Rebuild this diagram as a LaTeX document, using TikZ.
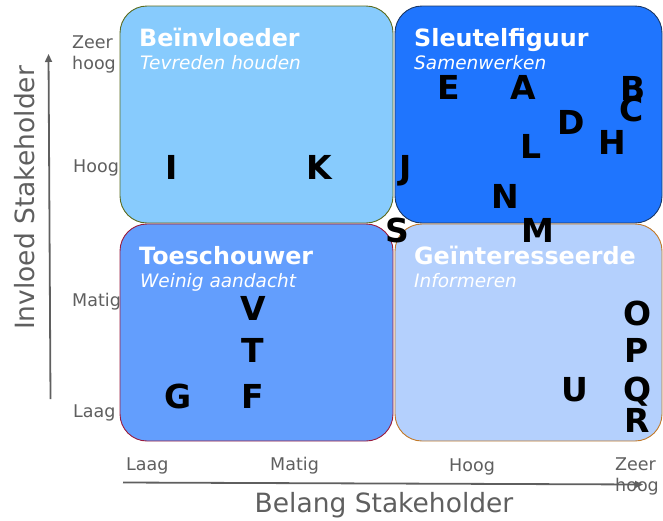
\documentclass[tikz,border=0pt]{standalone}
\usepackage{fontspec}
\setmainfont{DejaVu Sans}
\usetikzlibrary{arrows.meta}

\definecolor{invlfill}{RGB}{135,203,253}
\definecolor{invlrand}{RGB}{91,107,30}
\definecolor{sleutelfill}{RGB}{31,117,254}
\definecolor{sleutelrand}{RGB}{27,56,102}
\definecolor{toeschfill}{RGB}{99,158,253}
\definecolor{toeschrand}{RGB}{154,27,61}
\definecolor{geintfill}{RGB}{180,208,253}
\definecolor{geintrand}{RGB}{194,122,42}
\definecolor{asgrijs}{RGB}{95,95,95}

\begin{document}
\begin{tikzpicture}[x=1pt,y=-1pt,
	kwadrant/.style={rounded corners=27pt, line width=0.9pt},
	titel/.style={anchor=base west, inner sep=0pt, text=white, font=\bfseries\fontsize{23.8}{28}\selectfont},
	ondertitel/.style={anchor=base west, inner sep=0pt, text=white, font=\itshape\fontsize{18.5}{22}\selectfont},
	stk/.style={anchor=base, inner sep=0pt, font=\bfseries\fontsize{33}{38}\selectfont},
	schaal/.style={inner sep=0pt, align=left, text=asgrijs, font=\fontsize{17.5}{21}\selectfont},
	astitel/.style={anchor=base, inner sep=0pt, text=asgrijs, font=\fontsize{26.5}{31}\selectfont},
	as/.style={draw=asgrijs, line width=1.8pt, -{Triangle[length=8pt,width=7pt]}}]
	\useasboundingbox (0,0) rectangle (663,520);

	% kwadranten
	\filldraw[kwadrant, fill=invlfill, draw=invlrand] (120,6) rectangle (393,223);
	\filldraw[kwadrant, fill=sleutelfill, draw=sleutelrand] (395,6) rectangle (662,223);
	\filldraw[kwadrant, fill=toeschfill, draw=toeschrand] (120,224) rectangle (393,441);
	\filldraw[kwadrant, fill=geintfill, draw=geintrand] (395,224) rectangle (662,441);

	\node[titel] (invl) at (139,46) {Beïnvloeder};
	\node[ondertitel] (invlsub) at (140,69) {Tevreden houden};
	\node[titel] (sleutel) at (414,46) {Sleutelfiguur};
	\node[ondertitel] (sleutelsub) at (414,69) {Samenwerken};
	\node[titel] (toesch) at (139,264) {Toeschouwer};
	\node[ondertitel] (toeschsub) at (140,287) {Weinig aandacht};
	\node[titel] (geint) at (414,264) {Geïnteresseerde};
	\node[ondertitel] (geintsub) at (414,287) {Informeren};

	% stakeholders
	\foreach \naam/\px/\py in {I/172/179, K/319/179, J/406/179, E/449/99, A/523/99,
		B/633/100, C/632/121, D/571/134, H/612/154, L/531/158, N/505/208, M/538/242,
		S/397/242, V/253/320, T/253/362, G/178/408, F/253/408, O/638/325, P/637/362,
		Q/638/401, R/637/432, U/575/401}
		\node[stk] (stk\naam) at (\px,\py) {\naam};

	% assen
	\coordinate (yonder) at (50.5,399);
	\coordinate (yboven) at (48.5,54);
	\coordinate (xlinks) at (123,482.5);
	\coordinate (xrechts) at (643,484.5);
	\draw[as] (yonder) -- (yboven);
	\draw[as] (xlinks) -- (xrechts);

	\node[schaal, anchor=north west] (yzeer) at (72,36) {Zeer\\hoog};
	\node[schaal, anchor=base west] (yhoog) at (73,172) {Hoog};
	\node[schaal, anchor=base west] (ymatig) at (72,306) {Matig};
	\node[schaal, anchor=base west] (ylaag) at (73,417) {Laag};
	\node[schaal, anchor=base west] (xlaag) at (126,470) {Laag};
	\node[schaal, anchor=base west] (xmatig) at (270,470) {Matig};
	\node[schaal, anchor=base west] (xhoog) at (449,471) {Hoog};
	\node[schaal, anchor=north west] (xzeer) at (615,458) {Zeer\\hoog};

	\node[astitel, rotate=90] (invloed) at (34,198) {Invloed Stakeholder};
	\node[astitel] (belang) at (384,512) {Belang Stakeholder};
\end{tikzpicture}
\end{document}
